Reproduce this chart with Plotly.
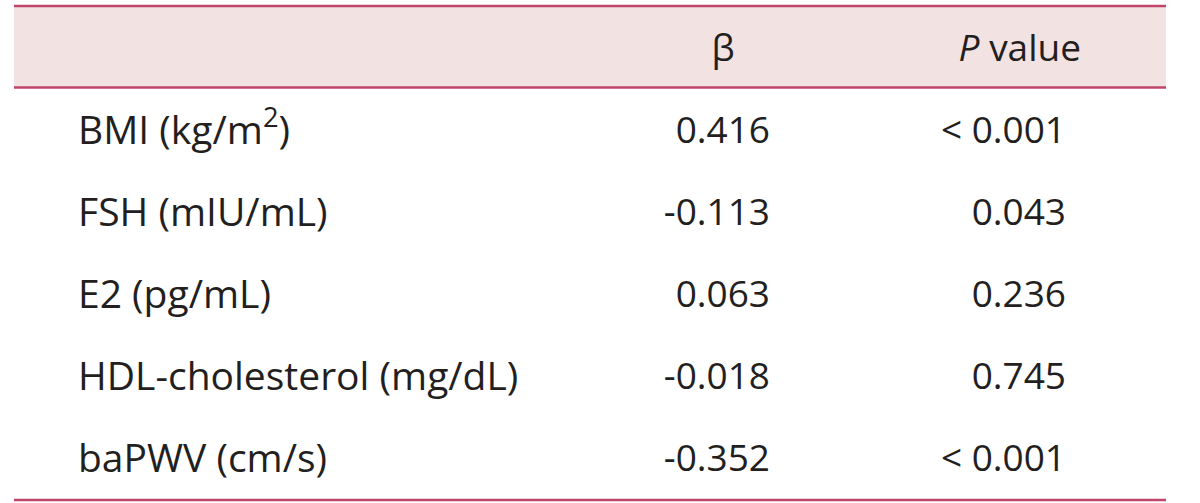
import plotly.graph_objects as go

# ---- data ----
variables = ["BMI (kg/m<sup>2</sup>)", "FSH (mIU/mL)", "E2 (pg/mL)",
             "HDL-cholesterol (mg/dL)", "baPWV (cm/s)"]
beta = ["0.416", "-0.113", "0.063", "-0.018", "-0.352"]
p_values = ["< 0.001", "0.043", "0.236", "0.745", "< 0.001"]
headers = ["", "β", "<i>P</i> value"]

# ---- layout constants (page pixel coordinates) ----
W, H = 1200, 503
X0, X1 = 14, 1166
Y_TOP, Y_HEAD, Y_BOT = 6, 87.5, 500
ROW_Y0, ROW_STEP = 134, 82
HEAD_Y = 52
COL_LABEL_X = 78
COL_BETA_X = 770
COL_P_X = 1066
LINE_COLOR = "#C0456B"
FILL = "#F2E2E1"
TEXT = "#231F20"
FONT = "Open Sans"
FS_LABEL = 39
FS_NUM = 37

row_y = [ROW_Y0 + i * ROW_STEP for i in range(len(variables))]

fig = go.Figure()

# header
fig.add_trace(go.Scatter(x=[723], y=[HEAD_Y], mode="text", text=[headers[1]],
                         textposition="middle center",
                         textfont=dict(family=FONT, size=FS_NUM, color=TEXT),
                         hoverinfo="skip", showlegend=False))
fig.add_trace(go.Scatter(x=[1081], y=[HEAD_Y], mode="text", text=[headers[2]],
                         textposition="middle left",
                         textfont=dict(family=FONT, size=FS_NUM, color=TEXT),
                         hoverinfo="skip", showlegend=False))

# body
fig.add_trace(go.Scatter(x=[COL_LABEL_X] * len(variables), y=row_y, mode="text",
                         text=variables, textposition="middle right",
                         textfont=dict(family=FONT, size=FS_LABEL, color=TEXT),
                         hoverinfo="skip", showlegend=False))
fig.add_trace(go.Scatter(x=[COL_BETA_X] * len(beta), y=row_y, mode="text",
                         text=beta, textposition="middle left",
                         textfont=dict(family=FONT, size=FS_NUM, color=TEXT),
                         hoverinfo="skip", showlegend=False))
fig.add_trace(go.Scatter(x=[COL_P_X] * len(p_values), y=row_y, mode="text",
                         text=p_values, textposition="middle left",
                         textfont=dict(family=FONT, size=FS_NUM, color=TEXT),
                         hoverinfo="skip", showlegend=False))

shapes = [
    dict(type="rect", x0=X0, x1=X1, y0=Y_TOP, y1=Y_HEAD, fillcolor=FILL,
         line=dict(width=0), layer="below"),
    dict(type="line", x0=X0, x1=X1, y0=Y_TOP, y1=Y_TOP, line=dict(color=LINE_COLOR, width=2.5)),
    dict(type="line", x0=X0, x1=X1, y0=Y_HEAD, y1=Y_HEAD, line=dict(color=LINE_COLOR, width=2.5)),
    dict(type="line", x0=X0, x1=X1, y0=Y_BOT, y1=Y_BOT, line=dict(color=LINE_COLOR, width=2.5)),
]

fig.update_layout(
    width=W, height=H,
    margin=dict(l=0, r=0, t=0, b=0),
    paper_bgcolor="white", plot_bgcolor="white",
    xaxis=dict(range=[0, W], visible=False, fixedrange=True),
    yaxis=dict(range=[H, 0], visible=False, fixedrange=True),
    shapes=shapes,
)

fig.write_html("out.html", config={"displayModeBar": False},
               post_script="document.body.style.margin='0px';")
